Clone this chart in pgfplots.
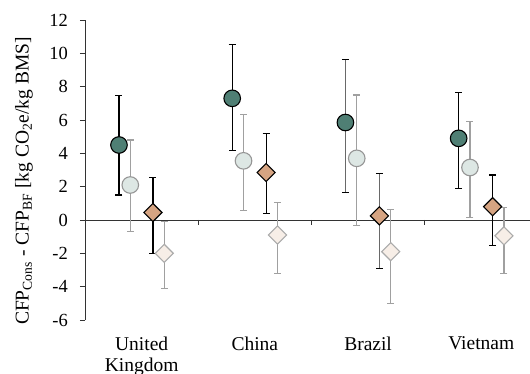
\documentclass[border=0pt]{standalone}
\usepackage{fontspec}
\setmainfont{Liberation Serif}
\usepackage{pgfplots}
\usepackage{pgfplotstable}
\pgfplotsset{compat=1.18}
\definecolor{teal1}{RGB}{79,127,116}
\definecolor{lcirc}{RGB}{221,231,228}
\definecolor{lcircE}{RGB}{150,150,150}
\definecolor{brown1}{RGB}{214,164,130}
\definecolor{ldiam}{RGB}{247,238,231}
\definecolor{ldiamE}{RGB}{170,170,170}
\definecolor{barG}{RGB}{160,160,160}
\definecolor{barD}{RGB}{105,105,105}

% dark circles (Brazil separate: grey bar)
\pgfplotstableread{
x y ep em
-0.2 4.5 2.95 3.0
0.8 7.3 3.25 3.15
2.8 4.9 2.75 3.0
}\darkA
\pgfplotstableread{
x y ep em
1.8 5.85 3.8 4.2
}\darkB
% light circles
\pgfplotstableread{
x y ep em
-0.1 2.1 2.7 2.8
0.9 3.55 2.8 3.0
1.9 3.7 3.8 4.05
2.9 3.15 2.75 3.0
}\lightC
% brown diamonds
\pgfplotstableread{
x y ep em
0.1 0.45 2.1 2.45
1.1 2.85 2.35 2.45
3.1 0.8 1.9 2.35
}\brownA
\pgfplotstableread{
x y ep em
2.1 0.25 2.55 3.15
}\brownB
% light diamonds
\pgfplotstableread{
x y ep em
0.2 -2.0 1.9 2.1
1.2 -0.9 1.95 2.3
2.2 -1.9 2.55 3.1
3.2 -0.95 1.7 2.25
}\lightD

\begin{document}
\begin{tikzpicture}
\begin{axis}[
  scale only axis,
  width=445bp, height=300bp,
  xmin=-0.5, xmax=3.43,
  ymin=-6, ymax=12,
  ytick={-6,-4,...,12},
  yticklabels={-6,-4,-2,0,2,4,6,8,10,12},
  xtick={0,1,2,3},
  xticklabels={{United\\Kingdom},China,Brazil,Vietnam},
  axis lines*=left,
  x axis line style={draw=none},
  y axis line style={draw=black!80, line width=0.9bp},
  ytick style={draw=black!80, line width=0.9bp},
  xtick style={draw=none},
  tick align=outside,
  major tick length=5bp,
  yticklabel style={font=\fontsize{18.5bp}{21.5bp}\selectfont, anchor=east, inner sep=0pt, xshift=-12bp},
  xticklabel style={font=\fontsize{19.5bp}{21bp}\selectfont, align=center, yshift=-8bp},
  label style={font=\fontsize{19.5bp}{22bp}\selectfont},
  ylabel={CFP\textsubscript{Cons} - CFP\textsubscript{BF} [kg CO\textsubscript{2}e/kg BMS]},
  ylabel style={at={(axis description cs:-0.137,0.463)}, anchor=center},
  clip=false,
]
\draw[black!80, line width=0.9bp] (axis cs:-0.5,0) -- (axis cs:3.43,0);
\draw[black!80, line width=0.9bp] (axis cs:0.5,0) -- (axis cs:0.5,-0.3);
\draw[black!80, line width=0.9bp] (axis cs:1.5,0) -- (axis cs:1.5,-0.3);
\draw[black!80, line width=0.9bp] (axis cs:2.5,0) -- (axis cs:2.5,-0.3);
% light circles
\addplot[only marks, mark=*, mark size=8.3bp, mark options={fill=lcirc, draw=lcircE, line width=1.1bp},
  error bars/.cd, y dir=both, y explicit,
  error bar style={draw=barG, line width=1.2bp},
  error mark options={rotate=90, mark size=3.5bp, draw=barG, line width=1.2bp}]
  table[x=x, y=y, y error plus=ep, y error minus=em] {\lightC};
% light diamonds
\addplot[only marks, mark=square*, mark size=6.4bp, mark options={rotate=45, fill=ldiam, draw=ldiamE, line width=1.1bp},
  error bars/.cd, y dir=both, y explicit,
  error bar style={draw=barG, line width=1.2bp},
  error mark options={rotate=90, mark size=3.5bp, draw=barG, line width=1.2bp}]
  table[x=x, y=y, y error plus=ep, y error minus=em] {\lightD};
% dark circles
\addplot[only marks, mark=*, mark size=8.3bp, mark options={fill=teal1, draw=black, line width=1.1bp},
  error bars/.cd, y dir=both, y explicit,
  error bar style={draw=black, line width=1.2bp},
  error mark options={rotate=90, mark size=3.5bp, draw=black, line width=1.2bp}]
  table[x=x, y=y, y error plus=ep, y error minus=em] {\darkA};
\addplot[only marks, mark=*, mark size=8.3bp, mark options={fill=teal1, draw=black, line width=1.1bp},
  error bars/.cd, y dir=both, y explicit,
  error bar style={draw=barD, line width=1.8bp},
  error mark options={rotate=90, mark size=3.5bp, draw=black, line width=1.2bp}]
  table[x=x, y=y, y error plus=ep, y error minus=em] {\darkB};
% brown diamonds
\addplot[only marks, mark=square*, mark size=6.4bp, mark options={rotate=45, fill=brown1, draw=black, line width=1.1bp},
  error bars/.cd, y dir=both, y explicit,
  error bar style={draw=black, line width=1.2bp},
  error mark options={rotate=90, mark size=3.5bp, draw=black, line width=1.2bp}]
  table[x=x, y=y, y error plus=ep, y error minus=em] {\brownA};
\addplot[only marks, mark=square*, mark size=6.4bp, mark options={rotate=45, fill=brown1, draw=black, line width=1.1bp},
  error bars/.cd, y dir=both, y explicit,
  error bar style={draw=barD, line width=1.8bp},
  error mark options={rotate=90, mark size=3.5bp, draw=black, line width=1.2bp}]
  table[x=x, y=y, y error plus=ep, y error minus=em] {\brownB};
\end{axis}
\pgfresetboundingbox
\path[use as bounding box] (-85bp,-54bp) rectangle (445bp,320bp);
\end{tikzpicture}
\end{document}
